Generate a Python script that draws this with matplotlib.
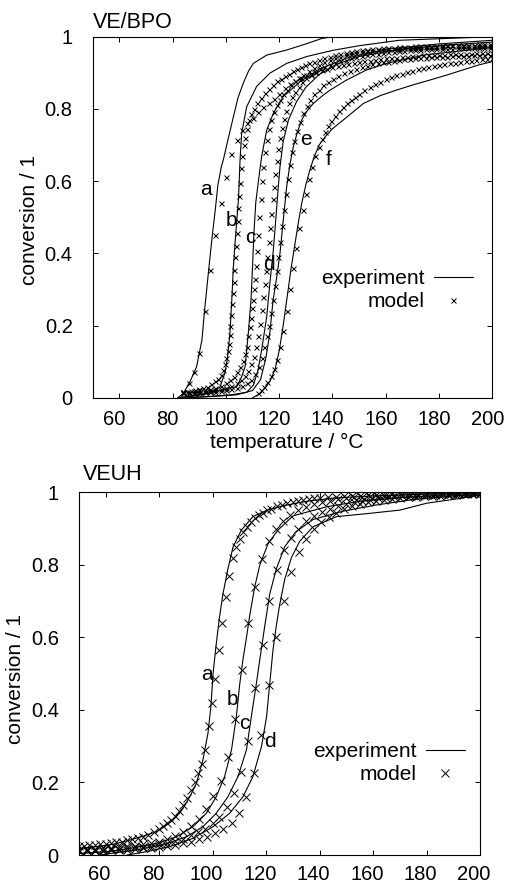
"""Cure conversion vs. temperature: VE/BPO (top) and VEUH (bottom), experiment vs. model."""

import matplotlib

matplotlib.use("Agg")
import matplotlib.pyplot as plt
import matplotlib.transforms as mtransforms
from matplotlib.lines import Line2D

plt.rcParams["font.family"] = ["Liberation Sans", "DejaVu Sans"]

# ---------------------------------------------------------------- VE/BPO data
VE_A_EXP_T = [82, 84, 86.5, 89, 91, 92, 93.4, 94.7, 96, 97, 98.3, 99, 100.3,
              102.8, 104.5, 106.5, 108.5, 110.3, 115.3, 122.8, 130, 136, 140, 200]
VE_A_EXP_X = [0.0, 0.012, 0.044, 0.086, 0.16, 0.243, 0.345, 0.437, 0.52, 0.59, 0.64, 0.658, 0.7,
              0.778, 0.83, 0.871, 0.905, 0.926, 0.949, 0.963, 0.98, 0.995, 1.0, 1.0]

VE_B_EXP_T = [82, 88, 94, 97.8, 99.6, 100.6, 101.5, 102.2, 102.8, 103.7, 104.7,
              105.3, 105.9, 107.8, 111.5, 116.5, 122.8, 130.3, 140, 150, 165, 200]
VE_B_EXP_X = [0.0, 0.005, 0.013, 0.03, 0.068, 0.11, 0.178, 0.27, 0.363, 0.455, 0.548,
              0.658, 0.732, 0.806, 0.862, 0.899, 0.926, 0.945, 0.962, 0.975, 0.99, 1.0]

VE_C_EXP_T = [83, 88, 93, 98, 101, 104, 105.9, 107.2, 108.4, 109.4, 110.0, 110.5,
              111.2, 112.2, 113.4, 115.3, 117.8, 121.5, 127.8, 135, 145, 160, 180, 200]
VE_C_EXP_X = [0.0, 0.006, 0.012, 0.02, 0.027, 0.03, 0.058, 0.086, 0.178, 0.27, 0.363, 0.455,
              0.54, 0.6, 0.668, 0.741, 0.788, 0.834, 0.875, 0.91, 0.94, 0.965, 0.98, 0.99]

VE_D_EXP_T = [85, 95, 102, 107.8, 110.3, 112, 113.4, 115.3, 116.5, 117.8, 118.8, 119.5,
              120.3, 121.5, 123.5, 126.5, 130, 135, 142, 150, 165, 185, 200]
VE_D_EXP_X = [0.0, 0.004, 0.008, 0.015, 0.035, 0.075, 0.132, 0.224, 0.317, 0.409, 0.501, 0.57,
              0.64, 0.71, 0.77, 0.82, 0.86, 0.895, 0.925, 0.945, 0.965, 0.978, 0.985]

VE_E_EXP_T = [86, 96, 104, 110, 113, 115, 116.5, 117.7, 119, 120.3, 121.5, 122.8, 124,
              125.3, 126.8, 128.4, 130.5, 132.8, 136, 139.1, 145.3, 152.8, 160.3, 175, 200]
VE_E_EXP_X = [0.0, 0.004, 0.008, 0.02, 0.05, 0.11, 0.18, 0.27, 0.33, 0.4, 0.49, 0.584, 0.645,
              0.695, 0.735, 0.769, 0.795, 0.815, 0.835, 0.852, 0.88, 0.908, 0.926, 0.95, 0.97]

VE_F_EXP_T = [110, 113, 116.5, 118.5, 120, 121.5, 123, 124.5, 126, 127.3, 128.5, 130, 131.5,
              133, 135, 137.5, 140, 145, 151.6, 158, 164, 170, 176.6, 183, 189, 195, 200]
VE_F_EXP_X = [0.0, 0.012, 0.045, 0.08, 0.13, 0.2, 0.28, 0.36, 0.43, 0.49, 0.54, 0.59, 0.63,
              0.665, 0.7, 0.725, 0.745, 0.775, 0.815, 0.837, 0.852, 0.866, 0.88, 0.894, 0.908,
              0.922, 0.931]

VE_A_MOD_T = [84, 86, 88, 90, 92, 94, 96, 98, 100, 102,
              104, 106, 108, 110, 112, 114, 116, 118, 120, 122,
              124, 126, 128, 130, 132, 134, 136, 138, 140, 142,
              144, 146, 148, 150, 152, 154, 156, 158, 160, 162,
              164, 166, 168, 170, 172, 174, 176, 178, 180, 182,
              184, 186, 188, 190, 192, 194, 196, 198, 200]
VE_A_MOD_X = [0.017, 0.04, 0.07, 0.125, 0.24, 0.355, 0.45, 0.54, 0.61, 0.675,
              0.715, 0.742, 0.76, 0.776, 0.791, 0.804, 0.815, 0.828, 0.842, 0.857,
              0.868, 0.877, 0.886, 0.893, 0.898, 0.903, 0.907, 0.911, 0.915, 0.918,
              0.921, 0.924, 0.927, 0.93, 0.932, 0.934, 0.936, 0.938, 0.94, 0.941,
              0.942, 0.943, 0.944, 0.946, 0.947, 0.948, 0.948, 0.949, 0.95, 0.95,
              0.951, 0.952, 0.952, 0.953, 0.953, 0.954, 0.954, 0.955, 0.955]

VE_B_MOD_T = [84, 85.5, 87, 88.5, 90, 91.5, 93, 94.5, 96, 97,
              98, 98.8, 99.5, 100.1, 100.6, 101.0, 101.4, 101.7, 102.0, 102.3,
              102.6, 102.9, 103.2, 103.5, 103.8, 104.1, 104.4, 104.7, 105.0, 105.3,
              105.7, 106.1, 106.6, 107.2, 107.9, 108.7, 109.6, 110.6, 111.7, 113,
              114.5, 116, 117.5, 119, 120.5, 122, 123.5, 125, 126.5, 128,
              129.5, 131, 133, 135, 137, 139, 141, 143, 145, 147,
              149, 151, 153, 155, 157, 159, 161, 163, 165, 167,
              169, 171, 173, 175, 177, 179, 181, 183, 185, 187,
              189, 191, 193, 195, 197, 199]
VE_B_MOD_X = [0.015, 0.017, 0.019, 0.021, 0.024, 0.027, 0.031, 0.037, 0.045, 0.053,
              0.064, 0.077, 0.092, 0.11, 0.13, 0.15, 0.175, 0.2, 0.23, 0.26,
              0.29, 0.32, 0.355, 0.39, 0.42, 0.455, 0.49, 0.525, 0.56, 0.595,
              0.635, 0.67, 0.7, 0.72, 0.745, 0.768, 0.785, 0.8, 0.815, 0.83,
              0.843, 0.855, 0.866, 0.876, 0.884, 0.891, 0.898, 0.904, 0.91, 0.916,
              0.921, 0.926, 0.931, 0.936, 0.941, 0.945, 0.949, 0.952, 0.955, 0.958,
              0.96, 0.962, 0.964, 0.966, 0.967, 0.968, 0.969, 0.97, 0.971, 0.972,
              0.972, 0.973, 0.974, 0.974, 0.975, 0.975, 0.976, 0.976, 0.977, 0.977,
              0.978, 0.978, 0.978, 0.979, 0.979, 0.98]

VE_C_MOD_T = [84, 86, 88, 90, 92, 94, 96, 98, 100, 101.5,
              103, 104.2, 105.3, 106.3, 107.1, 107.8, 108.4, 108.9, 109.4, 109.8,
              110.2, 110.6, 111.0, 111.4, 111.8, 112.2, 112.6, 113.0, 113.5, 114.0,
              114.6, 115.3, 116.1, 117.0, 118.0, 119.1, 120.3, 121.6, 123, 124.5,
              126, 127.5, 129, 131, 133, 135, 137, 139, 141, 143,
              145, 147, 149, 151, 153, 155, 157, 159, 161, 163,
              165, 167, 169, 171, 173, 175, 177, 179, 181, 183,
              185, 187, 189, 191, 193, 195, 197, 199]
VE_C_MOD_X = [0.015, 0.016, 0.018, 0.02, 0.022, 0.025, 0.028, 0.033, 0.04, 0.048,
              0.058, 0.07, 0.085, 0.103, 0.122, 0.141, 0.17, 0.195, 0.222, 0.248,
              0.272, 0.3, 0.33, 0.365, 0.405, 0.45, 0.5, 0.55, 0.6, 0.64,
              0.68, 0.715, 0.745, 0.77, 0.792, 0.81, 0.826, 0.84, 0.853, 0.865,
              0.876, 0.886, 0.895, 0.905, 0.914, 0.922, 0.929, 0.935, 0.94, 0.945,
              0.949, 0.952, 0.955, 0.957, 0.959, 0.961, 0.962, 0.964, 0.965, 0.966,
              0.967, 0.968, 0.969, 0.97, 0.97, 0.971, 0.971, 0.972, 0.972, 0.973,
              0.973, 0.973, 0.974, 0.974, 0.974, 0.975, 0.975, 0.975]

VE_D_MOD_T = [84, 86, 88, 90, 92, 94, 96, 98, 100, 102,
              104, 105.5, 107, 108.3, 109.4, 110.4, 111.3, 112.1, 112.8, 113.4,
              114.0, 114.6, 115.1, 115.6, 116.1, 116.6, 117.1, 117.6, 118.1, 118.6,
              119.1, 119.7, 120.3, 121.0, 121.8, 122.7, 123.7, 124.8, 126, 127.3,
              128.7, 130.2, 131.8, 133.5, 135.2, 137, 139, 141, 143, 145,
              147, 149, 151, 153, 155, 157, 159, 161, 163, 165,
              167, 169, 171, 173, 175, 177, 179, 181, 183, 185,
              187, 189, 191, 193, 195, 197, 199]
VE_D_MOD_X = [0.012, 0.013, 0.014, 0.015, 0.016, 0.018, 0.02, 0.023, 0.027, 0.032,
              0.04, 0.048, 0.06, 0.075, 0.092, 0.112, 0.141, 0.172, 0.205, 0.243,
              0.28, 0.315, 0.35, 0.39, 0.43, 0.47, 0.51, 0.55, 0.585, 0.62,
              0.655, 0.69, 0.72, 0.748, 0.772, 0.795, 0.815, 0.832, 0.848, 0.862,
              0.874, 0.885, 0.895, 0.903, 0.91, 0.916, 0.922, 0.927, 0.932, 0.936,
              0.94, 0.943, 0.946, 0.949, 0.951, 0.953, 0.955, 0.957, 0.958, 0.96,
              0.961, 0.962, 0.963, 0.964, 0.965, 0.965, 0.966, 0.966, 0.967, 0.967,
              0.968, 0.968, 0.968, 0.969, 0.969, 0.969, 0.97]

VE_E_MOD_T = [84, 86, 88, 90, 92, 94, 96, 98, 100, 102,
              104, 106, 108, 109.5, 111, 112.3, 113.4, 114.4, 115.3, 116.1,
              116.9, 117.6, 118.3, 119.0, 119.7, 120.4, 121.1, 121.8, 122.5, 123.2,
              124.0, 124.8, 125.7, 126.7, 127.8, 129, 130.3, 131.7, 133.2, 134.8,
              136.5, 138.3, 140.2, 142.2, 144.3, 146.5, 148.8, 151, 153, 155,
              157, 159, 161, 163, 165, 167, 169, 171, 173, 175,
              177, 179, 181, 183, 185, 187, 189, 191, 193, 195,
              197, 199]
VE_E_MOD_X = [0.012, 0.012, 0.013, 0.014, 0.015, 0.016, 0.017, 0.019, 0.021, 0.024,
              0.027, 0.032, 0.04, 0.05, 0.065, 0.085, 0.11, 0.14, 0.17, 0.2,
              0.235, 0.27, 0.31, 0.35, 0.39, 0.43, 0.475, 0.52, 0.565, 0.605,
              0.645, 0.68, 0.71, 0.74, 0.765, 0.788, 0.808, 0.825, 0.84, 0.853,
              0.865, 0.875, 0.884, 0.892, 0.899, 0.905, 0.911, 0.916, 0.92, 0.923,
              0.926, 0.929, 0.931, 0.933, 0.935, 0.937, 0.938, 0.94, 0.941, 0.942,
              0.943, 0.944, 0.944, 0.945, 0.946, 0.946, 0.947, 0.947, 0.948, 0.948,
              0.949, 0.949]

VE_F_MOD_T = [112, 113.2, 114.4, 115.6, 116.8, 118, 119.2, 120.4, 121.6, 122.8,
              124, 125.2, 126.4, 127.6, 128.8, 130, 131.2, 132.4, 133.6, 134.8,
              136, 137.2, 138.4, 139.6, 141, 142.5, 144, 145.5, 147, 148.5,
              150, 152, 154, 156, 158, 160, 162, 164, 166, 168,
              170, 172, 174, 176, 178, 180, 182, 184, 186, 188,
              190, 192, 194, 196, 198, 200]
VE_F_MOD_X = [0.012, 0.02, 0.03, 0.043, 0.06, 0.08, 0.105, 0.14, 0.185, 0.24,
              0.3, 0.36, 0.415, 0.47, 0.52, 0.565, 0.605, 0.64, 0.67, 0.695,
              0.717, 0.736, 0.752, 0.766, 0.78, 0.793, 0.805, 0.815, 0.825, 0.834,
              0.842, 0.851, 0.86, 0.868, 0.875, 0.882, 0.888, 0.893, 0.898, 0.902,
              0.906, 0.91, 0.913, 0.916, 0.919, 0.921, 0.924, 0.926, 0.928, 0.93,
              0.932, 0.934, 0.936, 0.937, 0.939, 0.94]

VE_LABELS = ["a", "b", "c", "d", "e", "f"]
VE_LABEL_T = [92.4, 102.2, 109.0, 116.3, 130.0, 138.5]
VE_LABEL_X = [0.561, 0.476, 0.428, 0.354, 0.700, 0.645]

# ------------------------------------------------------------------ VEUH data
VU_A_EXP_T = [50, 56.5, 63, 69, 74, 79, 82, 85.2, 88, 90.2, 92, 94, 96.4, 98.3, 99.4,
              100.2, 101.2, 102.5, 103.9, 105.8, 107.7, 110.8, 115.1, 120.2, 126.4, 135,
              145, 160, 180, 200]
VU_A_EXP_X = [0.018, 0.023, 0.03, 0.041, 0.052, 0.064, 0.078, 0.096, 0.118, 0.143, 0.168,
              0.198, 0.262, 0.336, 0.41, 0.5, 0.57, 0.65, 0.72, 0.79, 0.85, 0.896, 0.933,
              0.95, 0.963, 0.975, 0.984, 0.99, 0.995, 1.0]

VU_B_EXP_T = [50, 60.3, 69, 79, 86.5, 92.7, 97.7, 101.4, 104.5, 107.1, 108.9, 110.2, 111.4,
              112.7, 113.9, 115.8, 117.7, 120.8, 124.5, 130.1, 142.6, 155, 170, 185, 200]
VU_B_EXP_X = [0.004, 0.009, 0.018, 0.032, 0.05, 0.078, 0.115, 0.161, 0.216, 0.29, 0.381,
              0.473, 0.54, 0.6, 0.66, 0.74, 0.8, 0.859, 0.896, 0.935, 0.96, 0.975, 0.985,
              0.992, 0.998]

VU_C_EXP_T = [58, 62.7, 71.5, 81.4, 90.2, 96.4, 101.4, 105.8, 109.5, 112.7, 114.5, 116.4,
              117.7, 119.5, 121.4, 123.9, 127, 131, 137.6, 148.8, 161.3, 175, 190, 200]
VU_C_EXP_X = [0.0, 0.005, 0.014, 0.028, 0.05, 0.078, 0.115, 0.161, 0.216, 0.29, 0.381,
              0.473, 0.54, 0.63, 0.72, 0.79, 0.85, 0.89, 0.925, 0.948, 0.965, 0.98, 0.99,
              0.995]

VU_D_EXP_T = [68, 75.2, 84, 92.7, 100.2, 106.4, 111.4, 115.1, 118.3, 120.2, 121.4, 122.6,
              123.8, 125.1, 127, 129.5, 132.6, 137.6, 146.4, 158.8, 170.1, 180.1, 192.5, 200]
VU_D_EXP_X = [0.0, 0.009, 0.023, 0.046, 0.078, 0.115, 0.161, 0.216, 0.299, 0.381, 0.473,
              0.565, 0.63, 0.69, 0.76, 0.82, 0.865, 0.905, 0.933, 0.942, 0.951, 0.97, 0.983,
              0.993]

VU_A_MOD_T = [50, 52, 54, 56, 58, 60, 62, 64, 66, 68,
              70, 72, 74, 76, 78, 80, 81.5, 83, 84.5, 86,
              87.5, 89, 90.5, 92, 93.3, 94.6, 95.9, 97.2, 98.5, 99.8,
              101.1, 102.4, 103.7, 105, 106.3, 107.6, 108.9, 110.2, 111.5, 113,
              114.5, 116, 117.5, 119, 120.5, 122, 124, 126, 128, 130,
              132, 134, 136, 138, 140, 143, 146, 149, 152, 155,
              158, 161, 164, 167, 170, 173, 176, 179, 182, 185,
              188, 191, 194, 197, 200]
VU_A_MOD_X = [0.025, 0.026, 0.027, 0.028, 0.029, 0.031, 0.033, 0.035, 0.037, 0.04,
              0.043, 0.047, 0.051, 0.056, 0.063, 0.072, 0.079, 0.087, 0.097, 0.108,
              0.122, 0.138, 0.156, 0.178, 0.2, 0.225, 0.252, 0.29, 0.355, 0.42,
              0.485, 0.565, 0.64, 0.71, 0.77, 0.82, 0.85, 0.872, 0.89, 0.905,
              0.918, 0.928, 0.937, 0.944, 0.95, 0.955, 0.961, 0.966, 0.97, 0.974,
              0.977, 0.979, 0.981, 0.983, 0.985, 0.987, 0.988, 0.989, 0.99, 0.991,
              0.992, 0.993, 0.993, 0.994, 0.994, 0.995, 0.995, 0.995, 0.996, 0.996,
              0.996, 0.997, 0.997, 0.997, 0.997]

VU_B_MOD_T = [50, 53, 56, 59, 62, 65, 68, 71, 74, 77,
              80, 83, 86, 89, 92, 95, 97.6, 100.2, 103, 105.8,
              108.4, 111, 113.4, 115.8, 118.4, 121, 123.6, 126.2, 129, 132,
              135, 138, 141, 144, 147, 150, 153, 156, 159, 162,
              165, 168, 171, 174, 177, 180, 183, 186, 189, 192,
              195, 198]
VU_B_MOD_X = [0.015, 0.016, 0.017, 0.018, 0.02, 0.022, 0.024, 0.026, 0.029, 0.032,
              0.036, 0.043, 0.052, 0.064, 0.08, 0.1, 0.128, 0.162, 0.205, 0.27,
              0.375, 0.51, 0.64, 0.74, 0.815, 0.865, 0.898, 0.92, 0.937, 0.95,
              0.96, 0.967, 0.973, 0.977, 0.981, 0.984, 0.986, 0.988, 0.99, 0.991,
              0.992, 0.993, 0.994, 0.995, 0.995, 0.996, 0.996, 0.997, 0.997, 0.998,
              0.998, 0.998]

VU_C_MOD_T = [50, 53, 56, 59, 62, 65, 68, 71, 74, 77,
              80, 83, 86, 89, 92, 94.7, 97.3, 100, 102.6, 105.3,
              108, 110.7, 113.3, 116, 118.7, 121.3, 124, 126.7, 129.3, 132,
              135, 138, 141, 144, 147, 150, 153, 156, 159, 162,
              165, 168, 171, 174, 177, 180, 183, 186, 189, 192,
              195, 198]
VU_C_MOD_X = [0.012, 0.013, 0.014, 0.015, 0.016, 0.017, 0.019, 0.021, 0.023, 0.026,
              0.029, 0.033, 0.038, 0.045, 0.054, 0.063, 0.073, 0.087, 0.105, 0.132,
              0.17, 0.23, 0.315, 0.46, 0.58, 0.7, 0.785, 0.84, 0.875, 0.9,
              0.92, 0.935, 0.946, 0.955, 0.962, 0.968, 0.973, 0.977, 0.98, 0.983,
              0.985, 0.987, 0.989, 0.99, 0.991, 0.992, 0.993, 0.994, 0.995, 0.996,
              0.996, 0.997]

VU_D_MOD_T = [50, 53, 56, 59, 62, 65, 68, 71, 74, 77,
              80, 83, 86, 89, 92, 95, 98, 101, 104, 107.1,
              109.9, 112.7, 115.5, 118.3, 121.1, 123.9, 126.7, 129.5, 132.3, 135.1,
              137.9, 140.7, 143.5, 146.3, 149, 152, 155, 158, 161, 164,
              167, 170, 173, 176, 179, 182, 185, 188, 191, 194,
              197, 200]
VU_D_MOD_X = [0.01, 0.01, 0.011, 0.012, 0.013, 0.014, 0.015, 0.016, 0.018, 0.02,
              0.022, 0.025, 0.028, 0.032, 0.037, 0.043, 0.05, 0.06, 0.073, 0.088,
              0.115, 0.16, 0.225, 0.33, 0.47, 0.6, 0.7, 0.78, 0.835, 0.872,
              0.898, 0.917, 0.932, 0.944, 0.953, 0.961, 0.967, 0.972, 0.976, 0.979,
              0.982, 0.984, 0.986, 0.988, 0.989, 0.99, 0.991, 0.992, 0.993, 0.994,
              0.994, 0.995]

VU_LABELS = ["a", "b", "c", "d"]
VU_LABEL_T = [97.9, 107.5, 112.0, 121.4]
VU_LABEL_X = [0.483, 0.414, 0.347, 0.297]

X_TICKS = [60, 80, 100, 120, 140, 160, 180, 200]
Y_TICKS = [0, 0.2, 0.4, 0.6, 0.8, 1]
Y_TICK_LABELS = ["0", "0.2", "0.4", "0.6", "0.8", "1"]

INK = "black"
FONT = 15


def _draw_panel(ax, experiments, models, labels, marker_size, legend_anchor,
                xlabel_shift, xpad):
    for t, x in experiments:
        ax.plot(t, x, color=INK, lw=0.8)
    for t, x in models:
        ax.plot(t, x, ls="none", marker="x", ms=marker_size, mew=0.7, color=INK)
    for name, t, x in zip(*labels):
        ax.text(t, x, name, ha="center", va="baseline", fontsize=FONT)

    ax.set_xlim(50, 200)
    ax.set_ylim(0, 1)
    ax.set_xticks(X_TICKS)
    ax.set_yticks(Y_TICKS)
    ax.set_yticklabels(Y_TICK_LABELS)
    ax.tick_params(direction="in", top=True, right=True, length=3.5, width=0.7,
                   labelsize=14.5)
    ax.tick_params(axis="y", pad=14.4)
    ax.tick_params(axis="x", pad=xpad)
    for spine in ax.spines.values():
        spine.set_linewidth(0.8)

    # gnuplot set the x tick numbers a few pixels left of their ticks
    shift = mtransforms.ScaledTranslation(xlabel_shift / 100, 0, ax.figure.dpi_scale_trans)
    for label in ax.get_xticklabels():
        label.set_transform(label.get_transform() + shift)

    handles = [
        Line2D([], [], color=INK, lw=0.8),
        Line2D([], [], ls="none", marker="x", ms=marker_size, mew=0.7, color=INK),
    ]
    ax.legend(handles, ["experiment", "model"], markerfirst=False, frameon=False,
              loc="upper right", bbox_to_anchor=legend_anchor, fontsize=FONT,
              handlelength=1.9, handletextpad=0.45, labelspacing=0.22,
              borderpad=0, borderaxespad=0)


def main() -> None:
    fig = plt.figure(figsize=(5.05, 8.84), dpi=100)
    ax_top = fig.add_axes([0.1836, 0.5501, 0.7913, 0.4084])
    ax_bot = fig.add_axes([0.1560, 0.0328, 0.7945, 0.4103])

    _draw_panel(
        ax_top,
        [(VE_A_EXP_T, VE_A_EXP_X), (VE_B_EXP_T, VE_B_EXP_X), (VE_C_EXP_T, VE_C_EXP_X),
         (VE_D_EXP_T, VE_D_EXP_X), (VE_E_EXP_T, VE_E_EXP_X), (VE_F_EXP_T, VE_F_EXP_X)],
        [(VE_A_MOD_T, VE_A_MOD_X), (VE_B_MOD_T, VE_B_MOD_X), (VE_C_MOD_T, VE_C_MOD_X),
         (VE_D_MOD_T, VE_D_MOD_X), (VE_E_MOD_T, VE_E_MOD_X), (VE_F_MOD_T, VE_F_MOD_X)],
        (VE_LABELS, VE_LABEL_T, VE_LABEL_X),
        marker_size=3.6,
        legend_anchor=(0.952, 0.357),
        xlabel_shift=-5,
        xpad=8.5,
    )
    _draw_panel(
        ax_bot,
        [(VU_A_EXP_T, VU_A_EXP_X), (VU_B_EXP_T, VU_B_EXP_X), (VU_C_EXP_T, VU_C_EXP_X),
         (VU_D_EXP_T, VU_D_EXP_X)],
        [(VU_A_MOD_T, VU_A_MOD_X), (VU_B_MOD_T, VU_B_MOD_X), (VU_C_MOD_T, VU_C_MOD_X),
         (VU_D_MOD_T, VU_D_MOD_X)],
        (VU_LABELS, VU_LABEL_T, VU_LABEL_X),
        marker_size=6,
        legend_anchor=(0.963, 0.312),
        xlabel_shift=-6,
        xpad=7.5,
    )

    fig.text(93 / 505, 1 - 28 / 884, "VE/BPO", fontsize=15.5, va="baseline")
    fig.text(83 / 505, 1 - 480 / 884, "VEUH", fontsize=15.5, va="baseline")
    fig.text(286.7 / 505, 1 - 448 / 884, "temperature / °C", fontsize=FONT,
             ha="center", va="baseline")
    fig.text(29.5 / 505, 1 - 220 / 884, "conversion / 1", fontsize=FONT,
             rotation=90, ha="center", va="center")
    fig.text(16 / 505, 1 - 679 / 884, "conversion / 1", fontsize=FONT,
             rotation=90, ha="center", va="center")

    fig.savefig("out.png", dpi=100)
    plt.close(fig)


if __name__ == "__main__":
    main()
